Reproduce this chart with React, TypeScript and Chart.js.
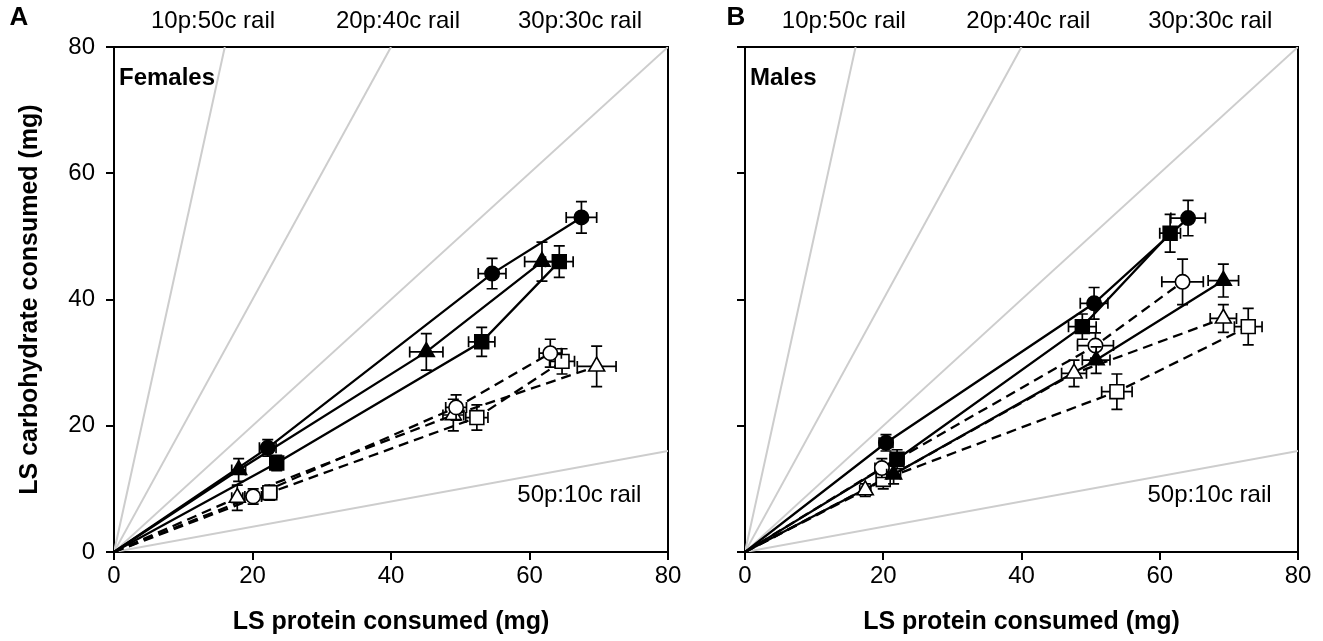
import React, { useEffect, useRef } from 'react';
import { Chart, registerables } from 'chart.js';

Chart.register(...registerables);

// ---------- data ----------
const AXIS_TICKS = [0, 20, 40, 60, 80];
const AXIS_MAX = 80;

const RAIL_NAMES = ['10p:50c rail', '20p:40c rail', '30p:30c rail', '50p:10c rail'];
const RAIL_PROTEIN = [10, 20, 30, 50];
const RAIL_CARB = [50, 40, 30, 10];

const PANEL_LETTERS = ['A', 'B'];
const PANEL_SEX = ['Females', 'Males'];

// Females (panel A) – protein (P), carbohydrate (C) and their errors
const F_FILLED_CIRCLE_P = [22.2, 54.6, 67.5];
const F_FILLED_CIRCLE_C = [16.5, 44.1, 53.0];
const F_FILLED_CIRCLE_EP = [1.2, 2.0, 2.2];
const F_FILLED_CIRCLE_EC = [1.3, 2.4, 2.5];

const F_FILLED_TRIANGLE_P = [18.0, 45.1, 61.8];
const F_FILLED_TRIANGLE_C = [13.0, 31.7, 46.0];
const F_FILLED_TRIANGLE_EP = [1.0, 2.4, 2.5];
const F_FILLED_TRIANGLE_EC = [1.8, 2.9, 3.1];

const F_FILLED_SQUARE_P = [23.5, 53.1, 64.3];
const F_FILLED_SQUARE_C = [14.1, 33.3, 46.0];
const F_FILLED_SQUARE_EP = [0.9, 1.9, 2.0];
const F_FILLED_SQUARE_EC = [1.2, 2.3, 2.5];

const F_OPEN_CIRCLE_P = [20.1, 49.4, 63.0];
const F_OPEN_CIRCLE_C = [8.8, 22.9, 31.5];
const F_OPEN_CIRCLE_EP = [1.2, 1.5, 1.6];
const F_OPEN_CIRCLE_EC = [1.2, 2.0, 2.2];

const F_OPEN_TRIANGLE_P = [17.8, 49.0, 69.7];
const F_OPEN_TRIANGLE_C = [8.6, 21.7, 29.4];
const F_OPEN_TRIANGLE_EP = [0.8, 1.5, 2.8];
const F_OPEN_TRIANGLE_EC = [2.0, 2.5, 3.2];

const F_OPEN_SQUARE_P = [22.5, 52.4, 64.7];
const F_OPEN_SQUARE_C = [9.4, 21.3, 30.2];
const F_OPEN_SQUARE_EP = [1.0, 1.6, 1.8];
const F_OPEN_SQUARE_EC = [1.2, 2.0, 2.0];

// Males (panel B)
const M_FILLED_CIRCLE_P = [20.4, 50.5, 64.1];
const M_FILLED_CIRCLE_C = [17.3, 39.4, 52.9];
const M_FILLED_CIRCLE_EP = [1.0, 2.0, 2.5];
const M_FILLED_CIRCLE_EC = [1.3, 2.5, 2.8];

const M_FILLED_TRIANGLE_P = [21.5, 50.8, 69.2];
const M_FILLED_TRIANGLE_C = [12.3, 30.4, 43.0];
const M_FILLED_TRIANGLE_EP = [1.0, 2.0, 2.2];
const M_FILLED_TRIANGLE_EC = [1.5, 2.1, 2.6];

const M_FILLED_SQUARE_P = [22.0, 48.8, 61.5];
const M_FILLED_SQUARE_C = [14.7, 35.7, 50.5];
const M_FILLED_SQUARE_EP = [1.0, 2.0, 1.5];
const M_FILLED_SQUARE_EC = [1.5, 2.0, 3.0];

const M_OPEN_CIRCLE_P = [19.8, 50.7, 63.3];
const M_OPEN_CIRCLE_C = [13.3, 32.7, 42.8];
const M_OPEN_CIRCLE_EP = [1.0, 2.6, 3.0];
const M_OPEN_CIRCLE_EC = [1.5, 2.0, 3.6];

const M_OPEN_TRIANGLE_P = [17.4, 47.6, 69.2];
const M_OPEN_TRIANGLE_C = [9.8, 28.3, 37.0];
const M_OPEN_TRIANGLE_EP = [0.8, 1.8, 1.9];
const M_OPEN_TRIANGLE_EC = [1.0, 2.1, 2.2];

const M_OPEN_SQUARE_P = [20.0, 53.8, 72.8];
const M_OPEN_SQUARE_C = [11.5, 25.4, 35.7];
const M_OPEN_SQUARE_EP = [1.0, 2.2, 2.0];
const M_OPEN_SQUARE_EC = [1.5, 2.8, 2.9];

// ---------- styles / layout ----------
const FONT = '"Liberation Sans", Arial, Helvetica, sans-serif';
const RAIL_COLOR = '#cdcdcd';

type Style = { marker: string; filled: boolean; dashed: boolean; radius: number };
const STYLE: Record<string, Style> = {
  filledCircle: { marker: 'circle', filled: true, dashed: false, radius: 7.2 },
  filledTriangle: { marker: 'triangle', filled: true, dashed: false, radius: 9.2 },
  filledSquare: { marker: 'rect', filled: true, dashed: false, radius: 9.8 },
  openCircle: { marker: 'circle', filled: false, dashed: true, radius: 7.2 },
  openTriangle: { marker: 'triangle', filled: false, dashed: true, radius: 9.2 },
  openSquare: { marker: 'rect', filled: false, dashed: true, radius: 9.8 },
};

const FEMALE_SERIES = [
  { key: 'filledCircle', p: F_FILLED_CIRCLE_P, c: F_FILLED_CIRCLE_C, ep: F_FILLED_CIRCLE_EP, ec: F_FILLED_CIRCLE_EC },
  { key: 'filledTriangle', p: F_FILLED_TRIANGLE_P, c: F_FILLED_TRIANGLE_C, ep: F_FILLED_TRIANGLE_EP, ec: F_FILLED_TRIANGLE_EC },
  { key: 'filledSquare', p: F_FILLED_SQUARE_P, c: F_FILLED_SQUARE_C, ep: F_FILLED_SQUARE_EP, ec: F_FILLED_SQUARE_EC },
  { key: 'openCircle', p: F_OPEN_CIRCLE_P, c: F_OPEN_CIRCLE_C, ep: F_OPEN_CIRCLE_EP, ec: F_OPEN_CIRCLE_EC },
  { key: 'openTriangle', p: F_OPEN_TRIANGLE_P, c: F_OPEN_TRIANGLE_C, ep: F_OPEN_TRIANGLE_EP, ec: F_OPEN_TRIANGLE_EC },
  { key: 'openSquare', p: F_OPEN_SQUARE_P, c: F_OPEN_SQUARE_C, ep: F_OPEN_SQUARE_EP, ec: F_OPEN_SQUARE_EC },
];

const MALE_SERIES = [
  { key: 'filledCircle', p: M_FILLED_CIRCLE_P, c: M_FILLED_CIRCLE_C, ep: M_FILLED_CIRCLE_EP, ec: M_FILLED_CIRCLE_EC },
  { key: 'filledTriangle', p: M_FILLED_TRIANGLE_P, c: M_FILLED_TRIANGLE_C, ep: M_FILLED_TRIANGLE_EP, ec: M_FILLED_TRIANGLE_EC },
  { key: 'filledSquare', p: M_FILLED_SQUARE_P, c: M_FILLED_SQUARE_C, ep: M_FILLED_SQUARE_EP, ec: M_FILLED_SQUARE_EC },
  { key: 'openCircle', p: M_OPEN_CIRCLE_P, c: M_OPEN_CIRCLE_C, ep: M_OPEN_CIRCLE_EP, ec: M_OPEN_CIRCLE_EC },
  { key: 'openTriangle', p: M_OPEN_TRIANGLE_P, c: M_OPEN_TRIANGLE_C, ep: M_OPEN_TRIANGLE_EP, ec: M_OPEN_TRIANGLE_EC },
  { key: 'openSquare', p: M_OPEN_SQUARE_P, c: M_OPEN_SQUARE_C, ep: M_OPEN_SQUARE_EP, ec: M_OPEN_SQUARE_EC },
];

// where text annotations sit (data units for x, pixels for top row)
const LABEL_LAYOUT = {
  topRailX: [14.3, 41.0, 67.3],
  topRailPixelY: 21,
  lowRail: { x: 67.2, y: 8.9 },
  letterPixelY: 18,
  sexPixelY: 78,
};

// ---------- helpers ----------
function railDatasets() {
  return RAIL_PROTEIN.map((p, i) => {
    const slope = RAIL_CARB[i] / p;
    const end = slope >= 1 ? { x: AXIS_MAX / slope, y: AXIS_MAX } : { x: AXIS_MAX, y: AXIS_MAX * slope };
    return {
      label: RAIL_NAMES[i],
      data: [{ x: 0, y: 0 }, end],
      showLine: true,
      borderColor: RAIL_COLOR,
      borderWidth: 2,
      pointRadius: 0,
      order: 3,
    };
  });
}

function seriesDatasets(series: any[]) {
  const out: any[] = [];
  series.forEach((s) => {
    const st = STYLE[s.key];
    const pts = s.p.map((p: number, i: number) => ({ x: p, y: s.c[i] }));
    out.push({
      label: s.key + ' line',
      data: [{ x: 0, y: 0 }, ...pts],
      showLine: true,
      borderColor: '#000',
      borderWidth: 2.3,
      borderDash: st.dashed ? [10, 6] : [],
      pointRadius: 0,
      order: 2,
    });
    out.push({
      label: s.key,
      data: pts,
      showLine: false,
      pointStyle: st.marker,
      pointRadius: st.radius,
      pointBackgroundColor: st.filled ? '#000' : '#fff',
      pointBorderColor: '#000',
      pointBorderWidth: 1.6,
      order: 1,
      errP: s.ep,
      errC: s.ec,
    });
  });
  return out;
}

const errorBarPlugin = {
  id: 'errorBars',
  beforeDatasetDraw(chart: any, args: any) {
    const ds = chart.data.datasets[args.index];
    if (!ds.errP) return;
    const { ctx } = chart;
    const xs = chart.scales.x;
    const ys = chart.scales.y;
    const cap = 5.5;
    ctx.save();
    ctx.strokeStyle = '#000';
    ctx.lineWidth = 1.7;
    ds.data.forEach((pt: any, i: number) => {
      const x = xs.getPixelForValue(pt.x);
      const y = ys.getPixelForValue(pt.y);
      const x1 = xs.getPixelForValue(pt.x - ds.errP[i]);
      const x2 = xs.getPixelForValue(pt.x + ds.errP[i]);
      const y1 = ys.getPixelForValue(pt.y - ds.errC[i]);
      const y2 = ys.getPixelForValue(pt.y + ds.errC[i]);
      ctx.beginPath();
      ctx.moveTo(x1, y); ctx.lineTo(x2, y);
      ctx.moveTo(x1, y - cap); ctx.lineTo(x1, y + cap);
      ctx.moveTo(x2, y - cap); ctx.lineTo(x2, y + cap);
      ctx.moveTo(x, y1); ctx.lineTo(x, y2);
      ctx.moveTo(x - cap, y1); ctx.lineTo(x + cap, y1);
      ctx.moveTo(x - cap, y2); ctx.lineTo(x + cap, y2);
      ctx.stroke();
    });
    ctx.restore();
  },
};

const framePlugin = {
  id: 'frame',
  beforeDatasetsDraw(chart: any) {
    const { ctx, chartArea: a } = chart;
    ctx.save();
    ctx.strokeStyle = '#000';
    ctx.lineWidth = 2;
    ctx.beginPath();
    ctx.moveTo(a.left - 1, a.top);
    ctx.lineTo(a.right, a.top);
    ctx.lineTo(a.right, a.bottom + 1);
    ctx.stroke();
    ctx.restore();
  },
};

const textPlugin = {
  id: 'panelText',
  afterDraw(chart: any, _args: any, opts: any) {
    const { ctx, chartArea: a } = chart;
    const xs = chart.scales.x;
    const ys = chart.scales.y;
    ctx.save();
    ctx.fillStyle = '#000';
    ctx.textBaseline = 'middle';
    // panel letter
    ctx.font = `bold 26px ${FONT}`;
    ctx.textAlign = 'center';
    ctx.fillText(opts.letter, opts.letterX, LABEL_LAYOUT.letterPixelY);
    // sex
    ctx.font = `bold 24px ${FONT}`;
    ctx.textAlign = 'left';
    ctx.fillText(opts.sex, a.left + 5, LABEL_LAYOUT.sexPixelY);
    // rail labels
    ctx.font = `24px ${FONT}`;
    ctx.textAlign = 'center';
    LABEL_LAYOUT.topRailX.forEach((v, i) => {
      ctx.fillText(RAIL_NAMES[i], xs.getPixelForValue(v), LABEL_LAYOUT.topRailPixelY);
    });
    ctx.fillText(
      RAIL_NAMES[3],
      xs.getPixelForValue(LABEL_LAYOUT.lowRail.x),
      ys.getPixelForValue(LABEL_LAYOUT.lowRail.y)
    );
    ctx.restore();
  },
};

function makeConfig(series: any[], panel: number, yAxisWidth: number, rightPad: number) {
  const showY = panel === 0;
  return {
    type: 'scatter',
    data: { datasets: [...railDatasets(), ...seriesDatasets(series)] },
    plugins: [errorBarPlugin, framePlugin, textPlugin],
    options: {
      animation: false,
      responsive: false,
      events: [],
      layout: { padding: { left: 0, right: rightPad, top: 47, bottom: 0 } },
      plugins: {
        legend: { display: false },
        tooltip: { enabled: false },
        panelText: { letter: PANEL_LETTERS[panel], letterX: showY ? 19 : 36, sex: PANEL_SEX[panel] },
      },
      scales: {
        x: {
          type: 'linear',
          min: 0,
          max: AXIS_MAX,
          afterBuildTicks: (s: any) => { s.ticks = AXIS_TICKS.map((v) => ({ value: v })); },
          afterFit: (s: any) => { s.height = 89; },
          ticks: { color: '#000', font: { size: 24, family: FONT }, padding: 2, maxRotation: 0 },
          grid: { drawOnChartArea: false, drawTicks: true, tickLength: 8, color: '#000', lineWidth: 2 },
          border: { display: true, color: '#000', width: 2 },
          title: {
            display: true,
            text: 'LS protein consumed (mg)',
            color: '#000',
            font: { size: 25, weight: 'bold', family: FONT },
            padding: { top: 4, bottom: 4 },
          },
        },
        y: {
          type: 'linear',
          min: 0,
          max: AXIS_MAX,
          afterBuildTicks: (s: any) => { s.ticks = AXIS_TICKS.map((v) => ({ value: v })); },
          afterFit: (s: any) => { s.width = yAxisWidth; },
          ticks: { display: showY, color: '#000', font: { size: 24, family: FONT }, padding: 11 },
          grid: { drawOnChartArea: false, drawTicks: true, tickLength: 8, color: '#000', lineWidth: 2 },
          border: { display: true, color: '#000', width: 2 },
          title: {
            display: showY,
            text: 'LS carbohydrate consumed (mg)',
            color: '#000',
            font: { size: 25, weight: 'bold', family: FONT },
            padding: { top: 15, bottom: 4 },
          },
        },
      },
    },
  } as any;
}

function Panel({ series, panel, left, width, yAxisWidth, rightPad }: any) {
  const ref = useRef<HTMLCanvasElement | null>(null);
  useEffect(() => {
    if (!ref.current) return;
    const chart = new Chart(ref.current, makeConfig(series, panel, yAxisWidth, rightPad));
    return () => chart.destroy();
  }, []);
  return (
    <canvas
      ref={ref}
      width={width}
      height={641}
      style={{ position: 'absolute', left, top: 0, width, height: 641, display: 'block' }}
    />
  );
}

export default function App() {
  return (
    <div style={{ position: 'fixed', left: 0, top: 0, width: 1323, height: 641, background: '#fff', overflow: 'hidden' }}>
      <Panel series={FEMALE_SERIES} panel={0} left={0} width={700} yAxisWidth={114} rightPad={32} />
      <Panel series={MALE_SERIES} panel={1} left={700} width={623} yAxisWidth={45} rightPad={25} />
    </div>
  );
}
